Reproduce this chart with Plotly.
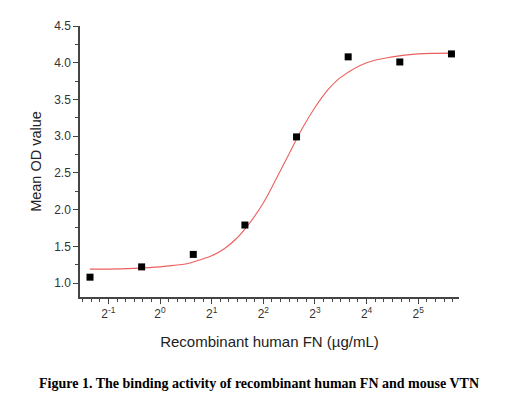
import numpy as np
import plotly.graph_objects as go

# measured points (2-fold dilution series)
conc = [0.390625, 0.78125, 1.5625, 3.125, 6.25, 12.5, 25, 50]
od = [1.08, 1.22, 1.39, 1.79, 2.99, 4.08, 4.01, 4.12]

# fitted curve
curve_conc = [0.39, 0.5, 0.707, 1.0, 1.19, 1.41, 1.68, 2.0, 2.38, 2.83, 3.36, 4.0,
              4.76, 5.66, 6.73, 8.0, 9.51, 11.3, 16.0, 22.6, 32.0, 50.0]
curve_od = [1.19, 1.19, 1.20, 1.22, 1.24, 1.26, 1.31, 1.37, 1.47, 1.62, 1.83, 2.09,
            2.42, 2.76, 3.10, 3.39, 3.63, 3.80, 4.00, 4.08, 4.12, 4.13]

x_powers = [-1, 0, 1, 2, 3, 4, 5]
x_ticktext = ["2<sup>%d</sup>" % p for p in x_powers]
y_ticks = [1.0, 1.5, 2.0, 2.5, 3.0, 3.5, 4.0, 4.5]

axis_color = "#444444"
font_family = "Arial, Liberation Sans, sans-serif"

fig = go.Figure()
fig.add_trace(go.Scatter(x=curve_conc, y=curve_od, mode="lines", line_shape="spline",
                         line=dict(color="#ec5f5f", width=1.1), hoverinfo="skip"))
fig.add_trace(go.Scatter(x=conc, y=od, mode="markers",
                         marker=dict(symbol="square", size=7, color="black")))

# minor ticks: five per doubling
minor_vals = [2 ** (p + k / 6) for p in range(-2, 6) for k in range(1, 6)]

fig.update_xaxes(
    type="log",
    range=[np.log10(2 ** -1.55), np.log10(2 ** 5.79)],
    tickmode="array",
    tickvals=[2 ** p for p in x_powers],
    ticktext=x_ticktext,
    ticks="outside", ticklen=5, tickwidth=1.3, tickcolor=axis_color,
    minor=dict(tickmode="array", tickvals=minor_vals, ticks="outside",
               ticklen=3, tickwidth=1, tickcolor=axis_color),
    showline=True, linecolor=axis_color, linewidth=1.5,
    showgrid=False, zeroline=False,
    tickfont=dict(size=12, color="#333333", family=font_family),
    title=dict(text="Recombinant human FN (µg/mL)", standoff=16,
               font=dict(size=15, color="#222222", family=font_family)),
)
fig.update_yaxes(
    range=[0.81, 4.5],
    tickmode="array",
    tickvals=y_ticks,
    ticktext=["%.1f" % v for v in y_ticks],
    ticks="outside", ticklen=5, tickwidth=1.3, tickcolor=axis_color,
    minor=dict(dtick=0.25, ticks="outside", ticklen=3, tickwidth=1, tickcolor=axis_color),
    showline=True, linecolor=axis_color, linewidth=1.5,
    showgrid=False, zeroline=False,
    tickfont=dict(size=12, color="#333333", family=font_family),
    title=dict(text="Mean OD value", standoff=9,
               font=dict(size=14.5, color="#222222", family=font_family)),
)

fig.add_annotation(text="<b>Figure 1. The binding activity of recombinant human FN and mouse VTN</b>",
                   xref="paper", yref="paper", x=0.472, y=-0.318, showarrow=False,
                   xanchor="center", yanchor="middle",
                   font=dict(size=14, color="black", family="Liberation Serif, Times New Roman, serif"))

fig.update_layout(
    width=523, height=406,
    margin=dict(l=72, r=72, t=11, b=117),
    plot_bgcolor="white", paper_bgcolor="white",
    showlegend=False,
)

fig.write_html("out.html")
